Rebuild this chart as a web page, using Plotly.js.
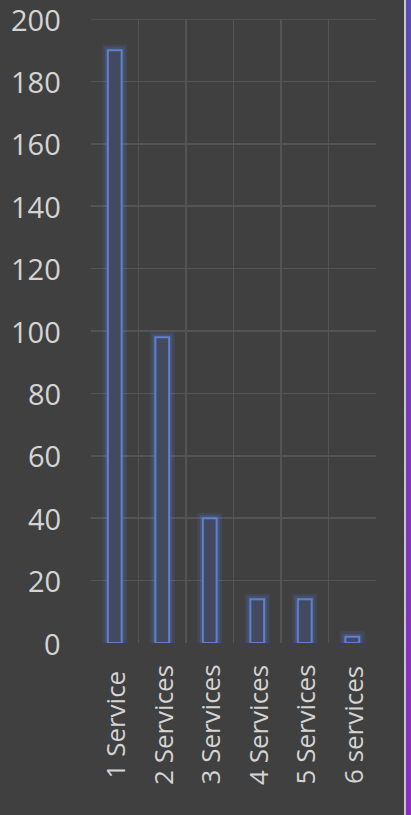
<!DOCTYPE html>
<html>
<head>
<meta charset="utf-8">
<script src="https://cdn.plot.ly/plotly-3.0.1.min.js"></script>
<style>
  html, body { margin: 0; padding: 0; background: #404040; }
  #wrap { position: relative; width: 411px; height: 815px; overflow: hidden; }
  #chart { position: absolute; left: 0; top: 0; width: 411px; height: 815px; }
  #strip { position: absolute; left: 404px; top: 0; width: 7px; height: 815px;
           background: linear-gradient(to bottom, #5a4db0, #7a3ab8 50%, #8e2cbf); }
  #stripLine { position: absolute; left: 404px; top: 0; width: 2px; height: 815px; background: #c9c6d2; }
</style>
</head>
<body>
<div id="wrap">
  <div id="chart"></div>
  <div id="strip"></div>
  <div id="stripLine"></div>
</div>
<script>
const categories = ["1 Service", "2 Services", "3 Services", "4 Services", "5 Services", "6 services"];
const counts = [190, 98, 40, 14, 14, 2];
const yTicks = [0, 20, 40, 60, 80, 100, 120, 140, 160, 180, 200];

const barWidth = 0.29;
const labelFont = { family: "Open Sans, sans-serif", color: "#d4d4d4" };

const glow = {
  type: "bar", x: categories, y: counts, width: barWidth,
  marker: { color: "rgba(0,0,0,0)", line: { color: "rgba(90,120,210,0.16)", width: 11 } },
  hoverinfo: "skip", showlegend: false
};
const glow2 = {
  type: "bar", x: categories, y: counts, width: barWidth,
  marker: { color: "rgba(0,0,0,0)", line: { color: "rgba(90,120,210,0.22)", width: 6 } },
  hoverinfo: "skip", showlegend: false
};
const bars = {
  type: "bar", x: categories, y: counts, width: barWidth,
  marker: { color: "#434a5f", line: { color: "#5f80cc", width: 2 } },
  showlegend: false
};

const xLabels = categories.map(c => ({
  x: c, xref: "x", y: -0.131, yref: "paper",
  text: c, textangle: -90, showarrow: false,
  xanchor: "center", yanchor: "middle",
  font: Object.assign({ size: 26 }, labelFont)
}));
const yLabels = yTicks.map(v => ({
  x: 0, xref: "paper", xshift: -28, y: v, yref: "y",
  text: String(v), showarrow: false,
  xanchor: "right", yanchor: "middle",
  font: Object.assign({ size: 29 }, labelFont)
}));

const layout = {
  width: 411, height: 815,
  margin: { l: 91, r: 35, t: 19, b: 172, pad: 0 },
  paper_bgcolor: "#404040", plot_bgcolor: "#404040",
  barmode: "overlay",
  font: labelFont,
  xaxis: {
    type: "category", tickson: "boundaries", showgrid: true,
    gridcolor: "#545454", gridwidth: 1.5, showticklabels: false,
    ticks: "", showline: false, zeroline: false, range: [-0.5, 5.5]
  },
  yaxis: {
    range: [yTicks[0], yTicks[yTicks.length - 1]], tickmode: "array", tickvals: yTicks,
    showgrid: true, gridcolor: "#545454", gridwidth: 1.5,
    zeroline: false, showline: false, ticks: "", showticklabels: false
  },
  shapes: [{
    type: "line", xref: "paper", x0: 0, x1: 1, yref: "y",
    y0: yTicks[yTicks.length - 1], y1: yTicks[yTicks.length - 1],
    line: { color: "#545454", width: 1.5 }, layer: "below"
  }],
  annotations: xLabels.concat(yLabels)
};

Plotly.newPlot("chart", [glow, glow2, bars], layout, { displayModeBar: false, staticPlot: true });
</script>
</body>
</html>
